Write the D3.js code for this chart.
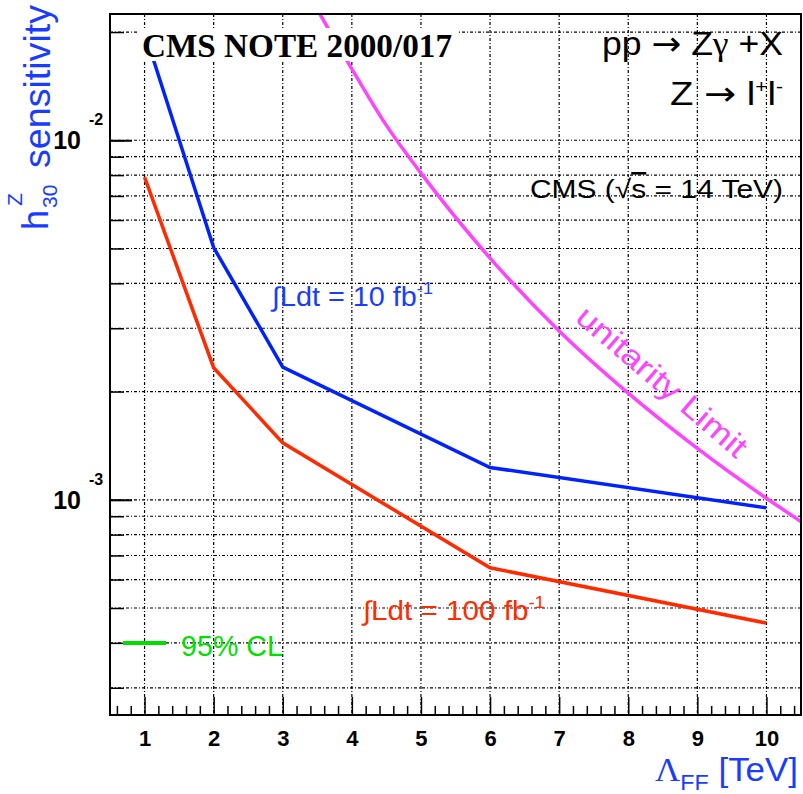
<!DOCTYPE html>
<html>

<head>
  <meta charset="utf-8" />
  <title>h30 sensitivity</title>
  <style>
    body {
      margin: 0;
      background: #fff;
    }

    svg {
      font-family: "Liberation Sans", Arial, sans-serif;
    }

    .grid line {
      stroke: #000;
      stroke-width: 1.2;
      stroke-dasharray: 3, 2, 1, 2;
    }
  </style>
  <script src="https://cdnjs.cloudflare.com/ajax/libs/d3/7.8.5/d3.min.js"></script>
</head>

<body>
  <div id="chartArea"></div>
  <script>
    // values
    var lambdaPts = [1, 2, 3, 6, 10];
    var lumi10 = [0.0200, 0.00503, 0.00234, 0.00123, 0.00095];
    var lumi100 = [0.0079, 0.00233, 0.00144, 0.000647, 0.000454];
    var unitX = [3.54, 4, 4.5, 5, 6, 7, 8, 9, 10, 10.5];
    var unitY = [0.0224, 0.0158, 0.0110, 0.0081, 0.0047, 0.00295, 0.00198, 0.00139, 0.00101, 0.00087];
    var xTicks = [1, 2, 3, 4, 5, 6, 7, 8, 9, 10];
    var yDecades = [0.01, 0.001];
    var yDecadeLabels = ['-2', '-3'];

    var w = 803,
      h = 794;
    var padL = 110, padR = 801, padT = 14, padB = 715;

    var xScale = d3.scaleLinear()
      .domain([0.5, 10.5])
      .range([padL, padR]);

    var yScale = d3.scaleLog()
      .domain([2.52e-4, 2.245e-2])
      .range([padB, padT]);

    var svg = d3.select('#chartArea').append('svg')
      .attr('width', w)
      .attr('height', h);

    svg.append('defs').append('clipPath').attr('id', 'plotClip')
      .append('rect')
      .attr('x', padL).attr('y', padT)
      .attr('width', padR - padL).attr('height', padB - padT);

    // log ticks inside the range
    var yMinor = [];
    [1e-4, 1e-3, 1e-2].forEach(function (dec) {
      for (var k = 1; k < 10; k++) {
        var v = dec * k;
        if (v >= 2.52e-4 && v <= 2.245e-2) yMinor.push(v);
      }
    });
    var xMinor = d3.range(3, 53).map(d => d / 5).filter(d => d % 1 !== 0);

    // grid
    var grid = svg.append('g').attr('class', 'grid');
    grid.selectAll('.hg')
      .data(yMinor)
      .enter()
      .append('line')
      .attr('class', 'hg')
      .attr('x1', padL).attr('x2', padR)
      .attr('y1', d => yScale(d)).attr('y2', d => yScale(d));
    grid.selectAll('.vg')
      .data(xTicks)
      .enter()
      .append('line')
      .attr('class', 'vg')
      .attr('y1', padT).attr('y2', padB)
      .attr('x1', d => xScale(d)).attr('x2', d => xScale(d));

    // curves
    var plot = svg.append('g').attr('clip-path', 'url(#plotClip)');

    var line = d3.line()
      .x(d => xScale(d[0]))
      .y(d => yScale(d[1]));

    plot.append('path')
      .datum(d3.zip(unitX, unitY))
      .attr('d', line.curve(d3.curveMonotoneX))
      .attr('fill', 'none')
      .attr('stroke', '#ff44ff')
      .attr('stroke-width', 3.5);

    line.curve(d3.curveLinear);
    plot.append('path')
      .datum(d3.zip(lambdaPts, lumi100))
      .attr('d', line)
      .attr('fill', 'none')
      .attr('stroke', '#ff2a00')
      .attr('stroke-width', 3.5);

    plot.append('path')
      .datum(d3.zip(lambdaPts, lumi10))
      .attr('d', line)
      .attr('fill', 'none')
      .attr('stroke', '#0022ff')
      .attr('stroke-width', 3.5);

    // x axis, ticks point up
    svg.append('g')
      .attr('transform', 'translate(0,' + padB + ')')
      .call(d3.axisBottom(xScale).tickValues(xMinor).tickSize(-9).tickFormat(''))
      .call(g => g.select('.domain').remove())
      .call(g => g.selectAll('line').attr('stroke-width', 1.5));
    svg.append('g')
      .attr('transform', 'translate(0,' + padB + ')')
      .call(d3.axisBottom(xScale).tickValues(xTicks).tickSize(-18).tickPadding(15).tickFormat(d3.format('d')))
      .call(g => g.select('.domain').remove())
      .call(g => g.selectAll('line').attr('stroke-width', 1.5))
      .call(g => g.selectAll('text')
        .style('font-family', '"Liberation Sans", Arial, sans-serif')
        .style('font-weight', 'bold')
        .style('font-size', '22px')
        .attr('fill', '#000'));

    // y axis, ticks point right
    svg.append('g')
      .attr('transform', 'translate(' + padL + ',0)')
      .call(d3.axisLeft(yScale).tickValues(yMinor).tickSize(-14).tickFormat(''))
      .call(g => g.select('.domain').remove())
      .call(g => g.selectAll('line').attr('stroke-width', 1.5));
    svg.append('g')
      .attr('transform', 'translate(' + padL + ',0)')
      .call(d3.axisLeft(yScale).tickValues(yDecades).tickSize(-22).tickFormat(''))
      .call(g => g.select('.domain').remove())
      .call(g => g.selectAll('line').attr('stroke-width', 2));

    // decade labels
    yDecades.forEach(function (d, i) {
      svg.append('text')
        .attr('x', 81).attr('y', yScale(d) + 9)
        .attr('text-anchor', 'end')
        .style('font-weight', 'bold')
        .style('font-size', '25px')
        .text('10');
      svg.append('text')
        .attr('x', 89).attr('y', yScale(d) - 15)
        .style('font-weight', 'bold')
        .style('font-size', '16px')
        .text(yDecadeLabels[i]);
    });

    // white box behind the note label
    svg.append('rect')
      .attr('x', 137).attr('y', 28)
      .attr('width', 320).attr('height', 33)
      .attr('fill', '#fff');
    svg.append('text')
      .attr('x', 142).attr('y', 57)
      .style('font-family', '"Liberation Serif", "Times New Roman", serif')
      .style('font-weight', 'bold')
      .style('font-size', '33px')
      .attr('textLength', 310)
      .attr('lengthAdjust', 'spacingAndGlyphs')
      .text('CMS NOTE 2000/017');

    // frame
    svg.append('rect')
      .attr('x', padL).attr('y', padT)
      .attr('width', padR - padL).attr('height', padB - padT)
      .attr('fill', 'none')
      .attr('stroke', '#000')
      .attr('stroke-width', 2);

    // process labels
    var pp = svg.append('text')
      .attr('x', 602).attr('y', 55)
      .style('font-size', '33px')
      .attr('textLength', 181)
      .attr('lengthAdjust', 'spacingAndGlyphs');
    pp.append('tspan').text('pp ');
    pp.append('tspan').style('font-family', '"DejaVu Sans", sans-serif').text('\u2192');
    pp.append('tspan').text(' Z');
    pp.append('tspan').style('font-family', '"Liberation Serif", serif').text('\u03b3');
    pp.append('tspan').text(' +X');

    var zl = svg.append('text')
      .attr('x', 670).attr('y', 105)
      .style('font-size', '33px')
      .attr('textLength', 113)
      .attr('lengthAdjust', 'spacingAndGlyphs');
    zl.append('tspan').text('Z ');
    zl.append('tspan').style('font-family', '"DejaVu Sans", sans-serif').text('\u2192');
    zl.append('tspan').text(' l');
    zl.append('tspan').attr('dy', -12).style('font-size', '18px').text('+');
    zl.append('tspan').attr('dy', 12).text('l');
    zl.append('tspan').attr('dy', -12).style('font-size', '18px').text('-');

    var cms = svg.append('text')
      .attr('x', 530).attr('y', 198)
      .style('font-size', '26px')
      .attr('textLength', 253)
      .attr('lengthAdjust', 'spacingAndGlyphs');
    cms.append('tspan').text('CMS (\u221a');
    cms.append('tspan').style('text-decoration', 'overline').text('s');
    cms.append('tspan').text(' = 14 TeV)');

    // luminosity labels
    var l10 = svg.append('text')
      .attr('x', 272).attr('y', 306)
      .style('font-size', '27px')
      .attr('fill', '#1a3cff')
      .attr('textLength', 161)
      .attr('lengthAdjust', 'spacingAndGlyphs');
    l10.append('tspan').text('\u222bLdt = 10 fb');
    l10.append('tspan').attr('dy', -12).style('font-size', '17px').text('-1');

    var l100 = svg.append('text')
      .attr('x', 363).attr('y', 620)
      .style('font-size', '27px')
      .attr('fill', '#ff2a00')
      .attr('textLength', 182)
      .attr('lengthAdjust', 'spacingAndGlyphs');
    l100.append('tspan').text('\u222bLdt = 100 fb');
    l100.append('tspan').attr('dy', -12).style('font-size', '17px').text('-1');

    svg.append('text')
      .attr('transform', 'translate(574,320) rotate(40.6)')
      .style('font-size', '31px')
      .attr('fill', '#ff44ff')
      .attr('textLength', 214)
      .attr('lengthAdjust', 'spacingAndGlyphs')
      .text('unitarity Limit');

    // legend
    svg.append('line')
      .attr('x1', 123).attr('x2', 166)
      .attr('y1', 643).attr('y2', 643)
      .attr('stroke', '#00e000')
      .attr('stroke-width', 4);
    svg.append('text')
      .attr('x', 181).attr('y', 656)
      .style('font-size', '29px')
      .attr('fill', '#00e000')
      .attr('textLength', 102)
      .attr('lengthAdjust', 'spacingAndGlyphs')
      .text('95% CL');

    // axis titles
    var yt = svg.append('g')
      .attr('transform', 'translate(48,230) rotate(-90)')
      .attr('fill', '#1a3cff');
    yt.append('text').attr('x', 0).attr('y', 0).style('font-size', '36px').text('h');
    yt.append('text').attr('x', 24).attr('y', -26).style('font-size', '21px').text('Z');
    yt.append('text').attr('x', 22).attr('y', 9).style('font-size', '21px').text('30');
    yt.append('text').attr('x', 62).attr('y', 2).style('font-size', '36px')
      .attr('textLength', 163).attr('lengthAdjust', 'spacingAndGlyphs')
      .text('sensitivity');

    var xt = svg.append('text')
      .attr('x', 655).attr('y', 781)
      .style('font-size', '33px')
      .attr('fill', '#1a3cff')
      .attr('textLength', 143)
      .attr('lengthAdjust', 'spacingAndGlyphs');
    xt.append('tspan').style('font-family', '"Liberation Serif", serif').text('\u039b');
    xt.append('tspan').attr('dy', 9).style('font-size', '22px').text('FF');
    xt.append('tspan').attr('dy', -9).text(' [TeV]');
  </script>
</body>

</html>
